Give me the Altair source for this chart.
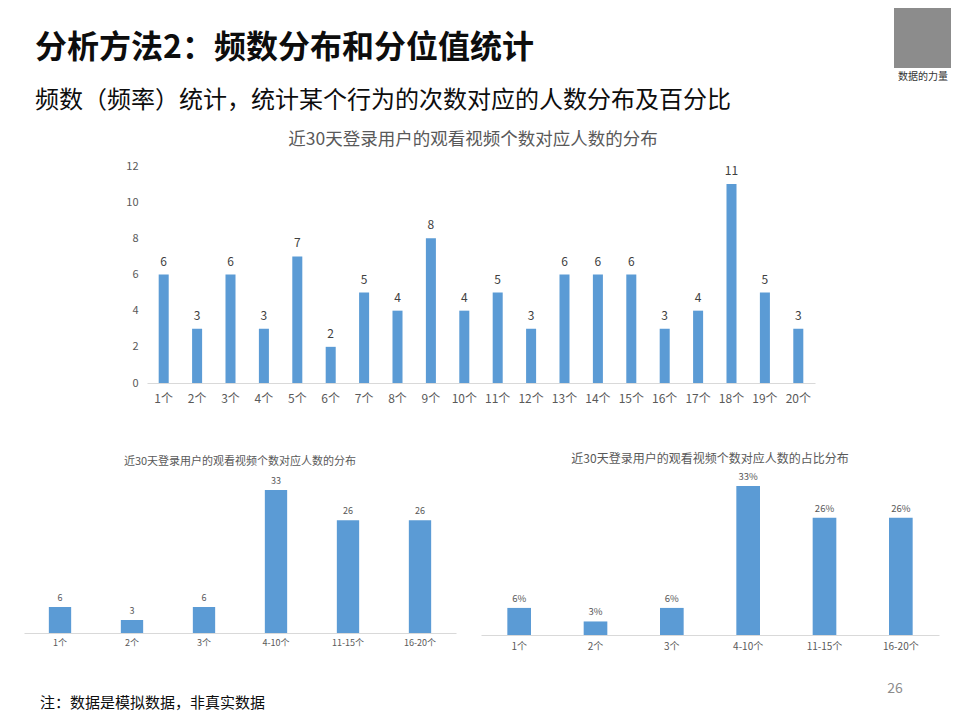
import altair as alt
import pandas as pd

FONT = "Noto Sans CJK SC"
BLUE = "#5B9BD5"
GRAY = "#595959"
AXIS_GRAY = "#D9D9D9"

# ---- data ----
top_categories = ["1个", "2个", "3个", "4个", "5个", "6个", "7个", "8个", "9个", "10个",
                  "11个", "12个", "13个", "14个", "15个", "16个", "17个", "18个", "19个", "20个"]
top_counts = [6, 3, 6, 3, 7, 2, 5, 4, 8, 4, 5, 3, 6, 6, 6, 3, 4, 11, 5, 3]
y_ticks = [0, 2, 4, 6, 8, 10, 12]

group_categories = ["1个", "2个", "3个", "4-10个", "11-15个", "16-20个"]
group_counts = [6, 3, 6, 33, 26, 26]
group_shares = [0.06, 0.03, 0.06, 0.33, 0.26, 0.26]

slide_title = "分析方法2：频数分布和分位值统计"
slide_subtitle = "频数（频率）统计，统计某个行为的次数对应的人数分布及百分比"
chart_title_1 = "近30天登录用户的观看视频个数对应人数的分布"
chart_title_2 = "近30天登录用户的观看视频个数对应人数的分布"
chart_title_3 = "近30天登录用户的观看视频个数对应人数的占比分布"
footnote = "注：数据是模拟数据，非真实数据"
page_number = "26"
qr_caption = "数据的力量"

one = pd.DataFrame({"a": [0]})


def spacer(w, h=10):
    return alt.Chart(one).mark_text(text=" ", font=FONT).encode(
        x=alt.value(w / 2), y=alt.value(h / 2)
    ).properties(width=w, height=h)


# ---- header ----
h_title = alt.Chart(one).mark_text(text=slide_title, font=FONT, fontSize=32, fontWeight="bold",
                                   color="#0D0D0D", align="left", baseline="alphabetic").encode(
    x=alt.value(27), y=alt.value(50))
h_sub = alt.Chart(one).mark_text(text=slide_subtitle, font=FONT, fontSize=24, color="#0D0D0D",
                                 align="left", baseline="alphabetic").encode(
    x=alt.value(27), y=alt.value(100))
h_qr = alt.Chart(one).mark_rect(color="#8C8C8C").encode(
    x=alt.value(886), x2=alt.value(943), y=alt.value(0), y2=alt.value(60))
h_cap = alt.Chart(one).mark_text(text=qr_caption, font=FONT, fontSize=10, color="#333333",
                                 align="center", baseline="alphabetic").encode(
    x=alt.value(915), y=alt.value(72))
header = (h_title + h_sub + h_qr + h_cap).properties(width=944, height=122)

# ---- top chart ----
df_top = pd.DataFrame({"cat": top_categories, "n": top_counts})
base_top = alt.Chart(df_top).encode(
    x=alt.X("cat:N", sort=top_categories,
            scale=alt.Scale(paddingInner=0.7, paddingOuter=0.35),
            axis=alt.Axis(title=None, labelAngle=0, labelFontSize=12, labelColor=GRAY,
                          domainColor=AXIS_GRAY, ticks=False, labelPadding=10, labelFont=FONT)),
    y=alt.Y("n:Q", scale=alt.Scale(domain=[0, 12]),
            axis=alt.Axis(title=None, values=y_ticks, grid=False, domain=False, ticks=False,
                          labelPadding=9, labelFontSize=11, labelColor=GRAY, labelFont=FONT)),
)
top_chart = (
    base_top.mark_bar(color=BLUE)
    + base_top.mark_text(dy=-13, baseline="middle", fontSize=12, color="#404040", font=FONT).encode(text="n:Q")
).properties(
    width=668, height=217,
    title=alt.TitleParams(text=chart_title_1, fontSize=17.5, color=GRAY, fontWeight="normal",
                          offset=12, dx=-8, anchor="middle", font=FONT),
)

# ---- bottom charts ----
df_g = pd.DataFrame({"cat": group_categories, "n": group_counts, "p": group_shares})

base_bl = alt.Chart(df_g).encode(
    x=alt.X("cat:N", sort=group_categories,
            scale=alt.Scale(paddingInner=0.69, paddingOuter=0.345),
            axis=alt.Axis(title=None, labelAngle=0, labelFontSize=9, labelColor=GRAY,
                          domainColor=AXIS_GRAY, ticks=False, labelPadding=5, labelFont=FONT)),
    y=alt.Y("n:Q", scale=alt.Scale(domain=[0, 36]), axis=None),
)
bl_chart = (
    base_bl.mark_bar(color=BLUE)
    + base_bl.mark_text(dy=-9, baseline="middle", fontSize=9, color="#595959", font=FONT).encode(text="n:Q")
).properties(
    width=432, height=156,
    title=alt.TitleParams(text=chart_title_2, fontSize=11, color=GRAY, fontWeight="normal",
                          offset=10.5, anchor="middle", font=FONT),
)

base_br = alt.Chart(df_g).encode(
    x=alt.X("cat:N", sort=group_categories,
            scale=alt.Scale(paddingInner=0.69, paddingOuter=0.345),
            axis=alt.Axis(title=None, labelAngle=0, labelFontSize=10, labelColor=GRAY,
                          domainColor=AXIS_GRAY, ticks=False, labelPadding=6, labelFont=FONT)),
    y=alt.Y("p:Q", scale=alt.Scale(domain=[0, 0.35]), axis=None),
)
br_chart = (
    base_br.mark_bar(color=BLUE)
    + base_br.mark_text(dy=-9, baseline="middle", fontSize=9.5, color="#595959", font=FONT).encode(
        text=alt.Text("p:Q", format=".0%"))
).properties(
    width=458, height=158,
    title=alt.TitleParams(text=chart_title_3, fontSize=12, color=GRAY, fontWeight="normal",
                          offset=6.5, anchor="middle", font=FONT),
)

# ---- footer ----
f_note = alt.Chart(one).mark_text(text=footnote, font=FONT, fontSize=15, color="#0D0D0D",
                                  align="left", baseline="alphabetic").encode(
    x=alt.value(32), y=alt.value(57))
f_page = alt.Chart(one).mark_text(text=page_number, font=FONT, fontSize=14, color="#8C8C8C",
                                  align="center", baseline="alphabetic").encode(
    x=alt.value(887), y=alt.value(42))
footer = (f_note + f_page).properties(width=944, height=54)

top_row = alt.hconcat(spacer(117), top_chart, spacing=0)
bottom_row = alt.hconcat(spacer(16), alt.hconcat(bl_chart, br_chart, spacing=25), spacing=0)

chart = alt.vconcat(
    header,
    alt.vconcat(top_row, bottom_row, spacing=48),
    footer,
    spacing=0,
).properties(padding=0).configure(font=FONT).configure_view(strokeWidth=0, stroke="transparent")

chart.save("out.html", embed_options={"renderer": "svg", "actions": False})
